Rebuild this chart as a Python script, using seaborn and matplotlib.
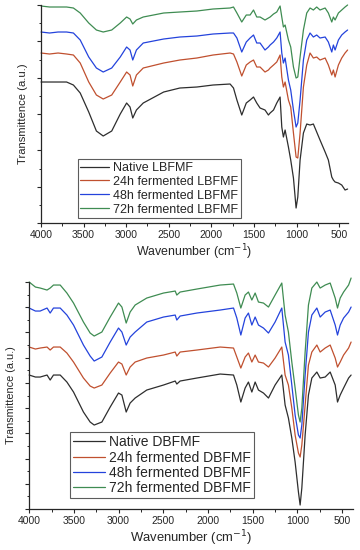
import matplotlib
matplotlib.use('Agg')
from matplotlib import pyplot as plt
from matplotlib.ticker import MultipleLocator
import numpy as np
import pandas as pd
import seaborn as sns

wn_top = [4000, 3900, 3800, 3700, 3620, 3540, 3440, 3350, 3270, 3170, 3070, 2995, 2955,
          2923, 2880, 2800, 2560, 2370, 2170, 1980, 1780, 1740, 1700, 1643, 1590, 1545,
          1505, 1467, 1428, 1370, 1330, 1310, 1270, 1232, 1193, 1173, 1154, 1134, 1095,
          1068, 1036, 1005, 985, 958, 919, 880, 841, 802, 763, 724, 664, 626, 586, 567,
          547, 508, 469, 430, 400]
native_lb = [141, 141, 141, 141, 138, 130, 111, 92, 87, 92, 109, 120, 116, 105, 113, 120,
             131, 135, 136, 138, 139, 135, 123, 108, 120, 123, 126, 120, 115, 113, 108, 110,
             113, 120, 126, 96, 86, 93, 76, 63, 45, 15, 26, 63, 90, 99, 98, 99, 91, 83, 71,
             63, 46, 43, 41, 40, 38, 33, 34]
h24_lb = [170, 169, 170, 169, 168, 160, 141, 128, 124, 128, 141, 151, 148, 137, 148, 155,
          160, 163, 165, 168, 170, 169, 161, 147, 158, 161, 163, 156, 156, 151, 153, 155,
          158, 161, 168, 146, 136, 141, 123, 116, 90, 66, 65, 90, 136, 158, 170, 165, 166,
          163, 165, 158, 148, 153, 146, 158, 165, 170, 173]
h48_lb = [191, 190, 191, 191, 190, 183, 166, 155, 151, 155, 166, 176, 173, 163, 173, 180,
          184, 186, 187, 189, 190, 190, 185, 171, 181, 185, 188, 180, 180, 173, 176, 178,
          181, 185, 191, 170, 160, 165, 143, 133, 113, 96, 100, 123, 163, 183, 190, 186,
          188, 185, 186, 181, 171, 178, 173, 183, 188, 191, 193]
h72_lb = [217, 216, 216, 216, 215, 210, 200, 193, 191, 193, 200, 206, 204, 199, 203, 206,
          210, 211, 212, 214, 215, 216, 210, 201, 208, 208, 213, 206, 206, 203, 205, 206,
          209, 211, 217, 206, 196, 198, 183, 176, 156, 145, 146, 166, 193, 210, 215, 213,
          216, 213, 215, 210, 201, 206, 203, 210, 213, 216, 218]

wn_bot = [4000, 3930, 3877, 3800, 3765, 3728, 3653, 3578, 3504, 3393, 3318, 3273, 3187,
          3094, 3001, 2963, 2915, 2871, 2815, 2685, 2498, 2367, 2349, 2312, 2125, 1864,
          1715, 1678, 1633, 1585, 1548, 1510, 1473, 1436, 1380, 1324, 1250, 1175, 1138,
          1101, 1063, 1026, 989, 970, 951, 914, 877, 839, 783, 746, 690, 634, 578, 552,
          522, 484, 428, 400]
native_db = [134, 132, 132, 134, 129, 134, 134, 127, 117, 97, 87, 84, 87, 102, 116, 114,
             97, 106, 111, 119, 124, 128, 125, 128, 131, 135, 134, 124, 107, 121, 127, 117,
             127, 119, 116, 111, 124, 134, 104, 91, 71, 47, 17, 4, 21, 74, 114, 131, 137,
             131, 132, 137, 124, 107, 114, 121, 131, 134]
h24_db = [162, 160, 161, 162, 159, 162, 162, 156, 147, 131, 123, 121, 124, 136, 147, 145,
          134, 142, 147, 151, 154, 157, 153, 157, 159, 162, 161, 152, 141, 152, 156, 147,
          154, 147, 146, 142, 151, 162, 134, 124, 101, 74, 56, 52, 64, 104, 144, 157, 164,
          157, 161, 164, 151, 142, 147, 154, 161, 167]
h48_db = [201, 198, 198, 201, 196, 201, 201, 194, 184, 164, 153, 148, 152, 167, 181, 177,
          164, 172, 177, 187, 192, 194, 189, 193, 196, 199, 201, 191, 174, 191, 196, 184,
          192, 184, 181, 176, 187, 201, 167, 154, 124, 94, 74, 71, 84, 134, 177, 194, 201,
          192, 197, 199, 184, 174, 184, 191, 197, 202]
h72_db = [227, 222, 221, 219, 221, 224, 224, 216, 206, 187, 176, 173, 177, 192, 206, 202,
          186, 197, 204, 211, 216, 218, 214, 217, 220, 224, 225, 216, 201, 214, 217, 209,
          216, 207, 206, 202, 214, 226, 194, 177, 147, 121, 94, 87, 101, 157, 204, 221, 227,
          221, 224, 226, 211, 201, 211, 217, 224, 231]

labels_lb = ['Native LBFMF', '24h fermented LBFMF', '48h fermented LBFMF', '72h fermented LBFMF']
labels_db = ['Native DBFMF', '24h fermented DBFMF', '48h fermented DBFMF', '72h fermented DBFMF']
colors = ['#2e2e2e', '#c0502f', '#2443dc', '#3f8c52']

sns.set_style('ticks')
plt.rcParams['font.family'] = ['Liberation Sans', 'DejaVu Sans']

fig = plt.figure(figsize=(3.6, 5.5), dpi=100)
ax1 = fig.add_axes([0.114, 0.5945, 0.853, 0.3964])
ax2 = fig.add_axes([0.081, 0.0745, 0.900, 0.4127])


def draw_panel(ax, wn, series, labels, xlim, ylim, ystep, legend_pos,
               xlab_size, ylab_size, leg_size, leg_space):
    for vals, lab, col in zip(series, labels, colors):
        df = pd.DataFrame({'wn': wn, 't': vals})
        sns.lineplot(data=df, x='wn', y='t', ax=ax, color=col, lw=0.9, label=lab,
                     sort=False, clip_on=False)
    ax.set_xlim(*xlim)
    ax.set_ylim(*ylim)
    ax.xaxis.set_major_locator(MultipleLocator(500))
    ax.xaxis.set_minor_locator(MultipleLocator(250))
    ax.yaxis.set_major_locator(MultipleLocator(ystep * 2))
    ax.yaxis.set_minor_locator(MultipleLocator(ystep))
    ax.set_yticklabels([])
    ax.tick_params(axis='both', which='major', length=3, width=0.8, labelsize=7.5, pad=2)
    ax.tick_params(axis='both', which='minor', length=1.8, width=0.7)
    ax.set_xlabel('Wavenumber (cm$^{-1}$)', fontsize=xlab_size, labelpad=2)
    ax.set_ylabel('Transmittence (a.u.)', fontsize=ylab_size, labelpad=4)
    for s in ['left', 'bottom']:
        ax.spines[s].set_linewidth(0.9)
    sns.despine(ax=ax)
    leg = ax.legend(loc='lower left', bbox_to_anchor=legend_pos, fontsize=leg_size,
                    frameon=True, fancybox=False, edgecolor='#333333',
                    handlelength=2.3, handletextpad=0.3, borderpad=0.2,
                    labelspacing=leg_space, borderaxespad=0)
    leg.get_frame().set_linewidth(0.8)


draw_panel(ax1, wn_top, [native_lb, h24_lb, h48_lb, h72_lb], labels_lb,
           (4000, 394), (0, 218), 218 / 12, (0.12, 0.023), 8.9, 8.1, 9, 0.15)
draw_panel(ax2, wn_bot, [native_db, h24_db, h48_db, h72_db], labels_db,
           (4000, 377), (0, 227), 227 / 18, (0.127, 0.048), 9.4, 7.8, 10, 0.1)

fig.savefig('out.png', dpi=100)
